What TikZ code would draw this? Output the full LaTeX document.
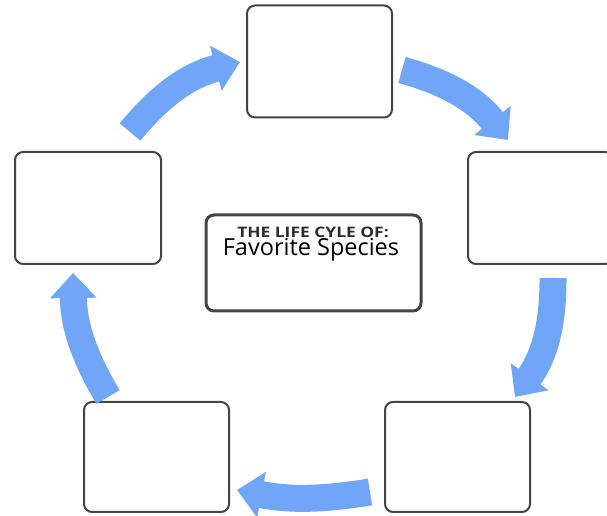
\documentclass[tikz,border=0pt]{standalone}
\usepackage{fontspec}
\setmainfont{Open Sans}
\newfontfamily\titlefont[FakeStretch=1.2]{Open Sans}
\usetikzlibrary{arrows.meta}
\definecolor{arrowblue}{RGB}{112,166,245}
\definecolor{boxgray}{RGB}{68,68,68}
\definecolor{titlegray}{RGB}{45,45,45}
\begin{document}
\begin{tikzpicture}[x=1pt,y=1pt,
  stagebox/.style={draw=boxgray, line width=2pt, rounded corners=8pt, fill=white, minimum width=145pt, minimum height=112pt, inner sep=0pt},
  cyclearrow/.style={draw=arrowblue, line width=27pt, -{Triangle[length=25pt,width=45pt]}}]
\useasboundingbox (0,0) rectangle (607,516);
\clip (0,0) rectangle (607,516);
% stage boxes
\node[stagebox] (top) at (319.5,454.5) {};
\node[stagebox] (right) at (540.5,308) {};
\node[stagebox, minimum width=146pt] (left) at (88,308) {};
\node[stagebox, minimum height=110pt] (botleft) at (156.5,59) {};
\node[stagebox, minimum height=110pt] (botright) at (457.5,59) {};
% centre box
\node[stagebox, line width=3pt, minimum width=215pt, minimum height=96pt] (centre) at (313.5,253) {};
\node[font=\titlefont\bfseries\fontsize{14.5}{14.5}\selectfont, text=titlegray, anchor=base, inner sep=0pt] (title) at (313,278) {THE LIFE CYLE OF:};
\node[font=\fontsize{23.5}{23.5}\selectfont, anchor=base, inner sep=0pt] (species) at (311,260) {Favorite Species};
% arrows
\coordinate (a1s) at (130,384); \coordinate (a1e) at (240,454);
\coordinate (a2s) at (402,446); \coordinate (a2e) at (508,376);
\coordinate (a3s) at (553,238); \coordinate (a3e) at (515,119);
\coordinate (a4s) at (370,24);  \coordinate (a4e) at (237,26);
\coordinate (a5s) at (108,119); \coordinate (a5e) at (73,243);
\draw[cyclearrow] (a1s) to[bend left=18] (a1e);
\draw[cyclearrow] (a2s) to[bend left=18] (a2e);
\draw[cyclearrow] (a3s) to[bend left=18] (a3e);
\draw[cyclearrow] (a4s) to[bend left=10] (a4e);
\draw[cyclearrow] (a5s) to[bend left=15] (a5e);
\end{tikzpicture}
\end{document}
